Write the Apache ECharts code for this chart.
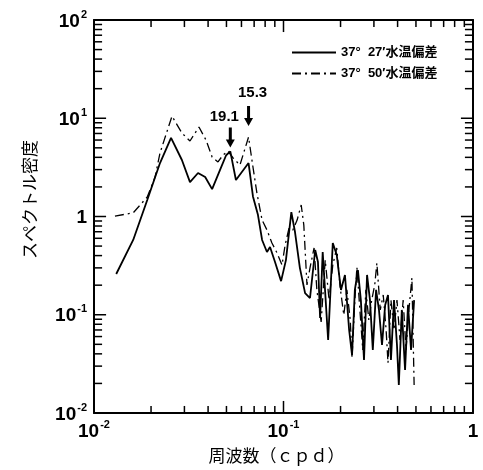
<!DOCTYPE html>
<html>
<head>
<meta charset="utf-8">
<script src="https://cdn.jsdelivr.net/npm/echarts@6/dist/echarts.min.js"></script>
<style>
  html, body { margin: 0; padding: 0; background: #fff; }
  #chart { width: 483px; height: 470px; }
</style>
</head>
<body>
<div id="chart"></div>
<script>
// 37°27' 水温偏差（実線）
const freq27 = [0.0131, 0.0161, 0.0191, 0.0223, 0.0255, 0.0291, 0.0321, 0.0354, 0.0386, 0.042,
  0.0462, 0.0498, 0.0524, 0.0561, 0.0654, 0.069, 0.0733, 0.0771, 0.0818, 0.0849,
  0.0902, 0.0971, 0.103, 0.110, 0.115, 0.122, 0.130, 0.138, 0.147, 0.152,
  0.156, 0.161, 0.172, 0.182, 0.191, 0.201, 0.211, 0.222, 0.23, 0.238,
  0.247, 0.256, 0.266, 0.276, 0.286, 0.296, 0.308, 0.319, 0.331, 0.344,
  0.356, 0.369, 0.383, 0.397, 0.406, 0.421, 0.438, 0.454, 0.471, 0.489];
const spec27 = [0.26, 0.577, 1.47, 3.5, 6.3, 3.76, 2.24, 2.77, 2.52, 1.9,
  2.97, 4.2, 4.6, 2.35, 3.5, 1.6, 1.04, 0.577, 0.435, 0.49,
  0.344, 0.22, 0.36, 1.11, 0.695, 0.3, 0.166, 0.148, 0.456, 0.344,
  0.0927, 0.435, 0.0553, 0.537, 0.405, 0.179, 0.254, 0.07, 0.0389, 0.179,
  0.285, 0.141, 0.0346, 0.254, 0.141, 0.0438, 0.179, 0.112, 0.0492, 0.126,
  0.159, 0.0346, 0.141, 0.0492, 0.0193, 0.112, 0.0274, 0.126, 0.0438, 0.141];

// 37°50' 水温偏差（破線）
const freq50 = [0.0129, 0.0161, 0.0191, 0.021, 0.0223, 0.0258, 0.0291, 0.0321, 0.0358, 0.039,
  0.042, 0.0451, 0.048, 0.0509, 0.0542, 0.0589, 0.0654, 0.069, 0.0724, 0.0771,
  0.0818, 0.0869, 0.0925, 0.0982, 0.102, 0.107, 0.112, 0.118, 0.124, 0.128,
  0.133, 0.138, 0.145, 0.150, 0.158, 0.166, 0.174, 0.182, 0.191, 0.199,
  0.208, 0.216, 0.225, 0.23, 0.238, 0.244, 0.253, 0.262, 0.272, 0.282,
  0.292, 0.303, 0.311, 0.324, 0.336, 0.348, 0.356, 0.369, 0.383, 0.397,
  0.412, 0.428, 0.443, 0.459, 0.476, 0.489];
const spec50 = [1.01, 1.09, 1.58, 2.52, 4.43, 10.5, 7.08, 5.87, 8.15, 6.0,
  4.03, 3.59, 4.23, 4.64, 3.94, 3.34, 6.44, 3.19, 1.73, 0.92,
  0.729, 0.537, 0.425, 0.321, 0.513, 0.764, 0.729, 0.92, 1.31, 0.818,
  0.201, 0.3, 0.478, 0.179, 0.0844, 0.36, 0.141, 0.321, 0.478, 0.191,
  0.0993, 0.179, 0.0885, 0.0363, 0.141, 0.306, 0.112, 0.0438, 0.179, 0.0885,
  0.141, 0.201, 0.336, 0.112, 0.159, 0.07, 0.0323, 0.141, 0.07, 0.141,
  0.0553, 0.141, 0.0438, 0.112, 0.237, 0.0193];

const seriesNames = ["37°  27′水温偏差", "37°  50′水温偏差"];

// 周期（日）の矢印
const peakLabels = ["19.1", "15.3"];
const peakFreq = [0.0524, 0.0654];
const peakSpec = [4.7, 6.44];

const xMin = 0.01, xMax = 1;
const yMin = 0.01, yMax = 100;

// 対数軸の目盛値 (k × 10^n)
function logTicks(lo, hi) {
  const major = [], minor = [];
  for (let e = lo; e <= hi; e++) {
    major.push(Math.pow(10, e));
    if (e < hi) for (let k = 2; k <= 9; k++) minor.push(k * Math.pow(10, e));
  }
  return { major, minor };
}
const ticksX = logTicks(-2, 0);
const ticksY = logTicks(-2, 2);

// 四辺の内向き目盛: 枠の位置に置いた細い矩形を内側へずらす
function tickMarks() {
  const inset = 1.001; // 枠のすぐ内側
  const marks = [];
  const add = (coord, size, offset) => marks.push({ coord: coord, symbolSize: size, symbolOffset: offset });
  const onX = (vals, len) => vals.forEach((v) => {
    add([v, yMin * inset], [1.5, len], [0, -len / 2]);
    add([v, yMax / inset], [1.5, len], [0, len / 2]);
  });
  const onY = (vals, len) => vals.forEach((v) => {
    add([xMin * inset, v], [len, 1.5], [len / 2, 0]);
    add([xMax / inset, v], [len, 1.5], [-len / 2, 0]);
  });
  onX(ticksX.major, 12);
  onX(ticksX.minor, 7);
  onY(ticksY.major, 12);
  onY(ticksY.minor, 8);
  return marks;
}

const numFont = "Liberation Sans, Arial, sans-serif";
const jpFont = "Noto Sans CJK JP, sans-serif";

function powLabel(v) {
  const e = Math.round(Math.log10(v));
  if (e === 0) return "{b|1}";
  return "{b|10}{s|" + e + "}";
}
const richPow = {
  b: { fontFamily: numFont, fontWeight: "bold", fontSize: 19, color: "#000", verticalAlign: "bottom", lineHeight: 22 },
  s: { fontFamily: numFont, fontWeight: "bold", fontSize: 11, color: "#000", verticalAlign: "top", lineHeight: 22, padding: [0, 0, 0, 1] },
};

function pairs(xs, ys) {
  return xs.map((x, i) => [x, ys[i]]);
}

const axisLine = () => ({ show: true, onZero: false, lineStyle: { color: "#000", width: 2 } });

const arrowPath = "path://M3,0 L6,0 L6,12 L9,12 L4.5,20 L0,12 L3,12 Z";

let myChart = echarts.init(document.getElementById("chart"));
let option = {
  animation: false,
  grid: { left: 94, right: 10, top: 20, bottom: 57 },
  legend: {
    data: seriesNames,
    orient: "vertical",
    left: 286,
    top: 41,
    itemWidth: 44,
    itemHeight: 14,
    itemGap: 8,
    itemStyle: { opacity: 0 },
    textStyle: { fontFamily: numFont + ", " + jpFont, fontWeight: "bold", fontSize: 13, color: "#000" },
  },
  xAxis: [
    {
      type: "log",
      min: xMin,
      max: xMax,
      name: "周波数（ｃｐｄ）",
      nameLocation: "middle",
      nameGap: 34,
      nameTextStyle: { fontFamily: jpFont, fontSize: 17, color: "#000", padding: [0, 14, 0, 0] },
      axisLine: axisLine(),
      axisTick: { show: false },
      splitLine: { show: false },
      axisLabel: { margin: 6, formatter: powLabel, rich: richPow },
    },
    {
      type: "log",
      min: xMin,
      max: xMax,
      position: "top",
      axisLine: axisLine(),
      axisTick: { show: false },
      splitLine: { show: false },
      axisLabel: { show: false },
    },
  ],
  yAxis: [
    {
      type: "log",
      min: yMin,
      max: yMax,
      name: "スペクトル密度",
      nameLocation: "middle",
      nameGap: 56,
      nameRotate: 90,
      nameTextStyle: { fontFamily: jpFont, fontSize: 17, color: "#000", padding: [0, 0, 0, 34] },
      axisLine: axisLine(),
      axisTick: { show: false },
      splitLine: { show: false },
      axisLabel: { margin: 7, formatter: powLabel, rich: richPow },
    },
    {
      type: "log",
      min: yMin,
      max: yMax,
      position: "right",
      axisLine: axisLine(),
      axisTick: { show: false },
      splitLine: { show: false },
      axisLabel: { show: false },
    },
  ],
  series: [
    {
      name: seriesNames[0],
      type: "line",
      data: pairs(freq27, spec27),
      symbol: "none",
      lineStyle: { color: "#000", width: 1.8 },
      itemStyle: { color: "#000" },
      markPoint: {
        symbol: "rect",
        silent: true,
        animation: false,
        itemStyle: { color: "#000" },
        label: { show: false },
        data: tickMarks(),
      },
    },
    {
      name: seriesNames[1],
      type: "line",
      data: pairs(freq50, spec50),
      symbol: "none",
      lineStyle: { color: "#000", width: 1.3, type: [9, 4, 2, 4] },
      itemStyle: { color: "#000" },
      markPoint: {
        symbol: arrowPath,
        symbolSize: [9, 20],
        itemStyle: { color: "#000" },
        label: {
          show: true,
          position: "top",
          distance: 3,
          fontFamily: numFont,
          fontWeight: "bold",
          fontSize: 15,
          color: "#000",
          formatter: (p) => p.name,
        },
        data: [
          { name: peakLabels[0], coord: [peakFreq[0], peakSpec[0]], symbolOffset: [0, -13], label: { offset: [-6, 0] } },
          { name: peakLabels[1], coord: [peakFreq[1], peakSpec[1]], symbolOffset: [0, -21], label: { offset: [4, -3] } },
        ],
      },
    },
  ],
};
myChart.setOption(option);
</script>
</body>
</html>
